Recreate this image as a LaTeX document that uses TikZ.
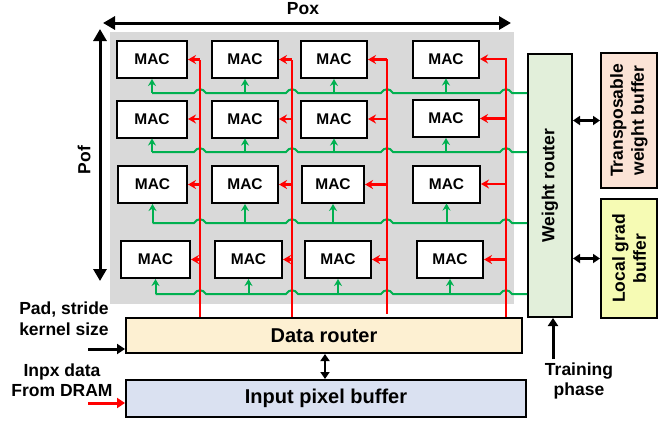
\documentclass[tikz,border=0pt]{standalone}
\usepackage{fontspec}
\setmainfont{Liberation Sans}
\usetikzlibrary{arrows.meta,calc}
\definecolor{gbg}{HTML}{D9D9D9}
\definecolor{gline}{HTML}{00B050}
\definecolor{rline}{HTML}{FF0000}
\definecolor{wrfill}{HTML}{E2EFDA}
\definecolor{tbfill}{HTML}{FBE3D6}
\definecolor{lgfill}{HTML}{F6FBB4}
\definecolor{drfill}{HTML}{FDF0D2}
\definecolor{ipfill}{HTML}{DAE1F1}
\begin{document}
\begin{tikzpicture}[x=1pt,y=-1pt,
  txt/.style={font=\bfseries\fontsize{17.5}{21}\selectfont},
  mac/.style={draw, line width=2pt, fill=white, minimum height=37pt, inner sep=0pt,
    font=\bfseries\fontsize{15.5}{16}\selectfont},
  blk/.style={draw, line width=2pt, inner sep=0pt},
  garr/.style={draw=gline, line width=2pt, -{Stealth[length=7pt,width=8pt]}},
  gl/.style={draw=gline, line width=2pt},
  rl/.style={draw=rline, line width=2.5pt},
  rarr/.style={draw=rline, line width=2.5pt, -{Stealth[length=8pt,width=9pt]}},
  bigarr/.style={line width=3pt, {Triangle[length=12pt,width=13pt]}-{Triangle[length=12pt,width=13pt]}},
  dbl/.style={line width=2.5pt, {Triangle[length=7pt,width=9pt]}-{Triangle[length=7pt,width=9pt]}},
  inarr/.style={line width=3pt, -{Triangle[length=8pt,width=10pt]}}
]
\useasboundingbox (0,0) rectangle (670,424);
% gray array background
\fill[gbg] (110,32) rectangle (514,304);

% MAC units
\node[mac, minimum width=70pt] (m11) at (152,59.5) {MAC};
\node[mac, minimum width=66pt] (m12) at (245,59.5) {MAC};
\node[mac, minimum width=66pt] (m13) at (334,59.5) {MAC};
\node[mac, minimum width=66pt] (m14) at (446,59) {MAC};
\node[mac, minimum width=70pt] (m21) at (152,119) {MAC};
\node[mac, minimum width=66pt] (m22) at (245,119) {MAC};
\node[mac, minimum width=66pt] (m23) at (334,119) {MAC};
\node[mac, minimum width=66pt] (m24) at (446,118.5) {MAC};
\node[mac, minimum width=69pt] (m31) at (152.5,184.5) {MAC};
\node[mac, minimum width=66pt] (m32) at (245,184.5) {MAC};
\node[mac, minimum width=62pt] (m33) at (333,184.5) {MAC};
\node[mac, minimum width=67pt] (m34) at (446.5,184) {MAC};
\node[mac, minimum width=69pt] (m41) at (155.5,259.5) {MAC};
\node[mac, minimum width=67pt] (m42) at (248.5,259.5) {MAC};
\node[mac, minimum width=66pt] (m43) at (338,259.5) {MAC};
\node[mac, minimum width=66pt] (m44) at (450,259.5) {MAC};

% routers and buffers
\node[blk, fill=wrfill, minimum width=44pt, minimum height=263pt] (wr) at (550,185.5) {};
\node[txt, rotate=90] at (wr.center) {Weight router};
\node[blk, fill=tbfill, minimum width=56pt, minimum height=135pt] (tb) at (629,120.5) {};
\node[txt, rotate=90, align=center] at (tb.center) {Transposable\\weight buffer};
\node[blk, fill=lgfill, minimum width=56pt, minimum height=119pt] (lg) at (629,258.5) {};
\node[txt, rotate=90, align=center] at (lg.center) {Local grad\\buffer};
\node[blk, fill=drfill, minimum width=396pt, minimum height=35pt, font=\bfseries\fontsize{20}{22}\selectfont] (dr) at (324,335.5) {Data router};
\node[blk, fill=ipfill, minimum width=400pt, minimum height=37pt, font=\bfseries\fontsize{20}{22}\selectfont] (ip) at (326,398.5) {Input pixel buffer};

% green weight lines with bridges over red lines
\foreach \y/\xs in {93/152,152/152,223/152.5,294/155.5}{
  \draw[gl] (\xs,\y)
    \foreach \rx in {200,292,387,506}{ -- ({\rx-6},\y) .. controls ({\rx-3},{\y-5}) and ({\rx+3},{\y-5}) .. ({\rx+6},\y) }
    -- (wr.west |- 0,\y);
}
\foreach \r/\y in {1/93,2/152,3/223,4/294}{
  \foreach \c in {1,2,3,4}{
    \draw[garr] (m\r\c.south |- 0,\y) -- (m\r\c.south);
  }
}

% red data lines
\coordinate (r1) at (200,60);
\coordinate (r2) at (292,60);
\coordinate (r3) at (387,59);
\coordinate (r4) at (506,58);
\foreach \c in {1,2,3,4}{
  \draw[rl] (r\c) -- (r\c |- 0,304);
}
\draw[draw=rline, line width=1.5pt] (r1 |- 0,304) -- (r1 |- dr.north);
\draw[draw=rline, line width=1.5pt] (r2 |- 0,304) -- (r2 |- dr.north);
\draw[draw=rline, line width=1.5pt] (r3 |- 0,304) -- (r3 |- 0,314);
\draw[draw=rline, line width=1.5pt] (r4 |- 0,304) -- (r4 |- dr.north);
\foreach \r in {1,2,3,4}{
  \foreach \c in {1,2,3,4}{
    \draw[rarr] (r\c |- m\r\c.east) -- (m\r\c.east);
  }
}

% Pox / Pof
\coordinate (poxl) at (103,23);
\coordinate (poxr) at (511,23);
\draw[bigarr] (poxl) -- (poxr);
\node[txt] (pox) at (303,9) {Pox};
\coordinate (poft) at (100,29);
\coordinate (pofb) at (100,281);
\draw[bigarr] (poft) -- (pofb);
\node[txt, rotate=90] (pof) at (84,160) {Pof};

% buffer connections
\draw[dbl] (tb.west -| wr.east) -- (tb.west);
\draw[dbl] (lg.west -| wr.east) -- (lg.west);
\coordinate (dm) at (325,0);
\draw[dbl] (dm |- dr.south) -- (dm |- ip.north);

% inputs
\node[txt, align=center] (pad) at (64,319) {Pad, stride\\kernel size};
\coordinate (padin) at (88,349);
\draw[inarr] (padin) -- (padin -| dr.west);
\node[txt, align=center, font=\bfseries\fontsize{17.5}{20}\selectfont] (inpx) at (62,380) {Inpx data\\From DRAM};
\coordinate (inpxin) at (88,403);
\draw[inarr, draw=rline, -{Triangle[length=8pt,width=10pt,fill=rline]}] (inpxin) -- (inpxin -| ip.west);
\node[txt, align=center, font=\bfseries\fontsize{17.5}{20}\selectfont] (train) at (579,381) {Training\\phase};
\coordinate (tpin) at (553,359);
\draw[inarr] (tpin) -- (tpin |- wr.south);
\end{tikzpicture}
\end{document}
